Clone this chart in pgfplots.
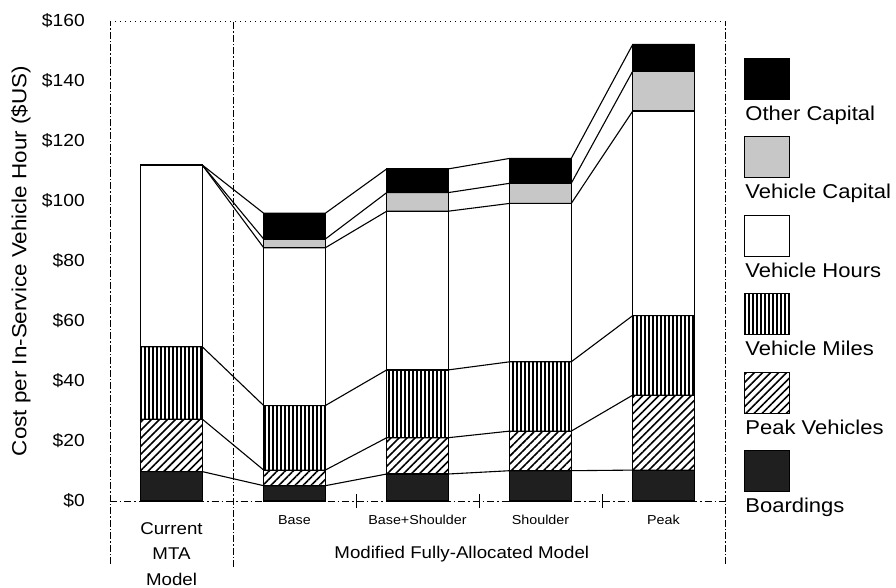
\documentclass[border=0pt]{standalone}
\usepackage{fontspec}
\setmainfont{Liberation Sans}[FakeStretch=1.1]
\usepackage{pgfplots}
\pgfplotsset{compat=1.18}
\usepackage{pgfplotstable}
\usetikzlibrary{patterns,patterns.meta}

\pgfdeclarepatternformonly{vstripes}{\pgfpointorigin}{\pgfpoint{4pt}{60pt}}{\pgfpoint{4pt}{60pt}}{%
  \pgfpathrectangle{\pgfpointorigin}{\pgfpoint{2.3pt}{60pt}}\pgfusepath{fill}}

\pgfplotstableread{
x B PV VM VH VC OC
0 9.8 17.5 24.1 60.6 0 0
1 5.1 5.2 21.5 52.6 2.9 8.6
2 9.0 12.1 22.6 52.9 6.2 7.9
3 10.1 13.2 23.1 52.8 6.7 8.3
4 10.3 25.0 26.5 68.2 13.3 8.9
}\bars

\pgfplotstableread{
x B PV VM VH VC OC
-0.25 9.8 17.5 24.1 60.6 0 0
0.25 9.8 17.5 24.1 60.6 0 0
0.75 5.1 5.2 21.5 52.6 2.9 8.6
1.25 5.1 5.2 21.5 52.6 2.9 8.6
1.75 9.0 12.1 22.6 52.9 6.2 7.9
2.25 9.0 12.1 22.6 52.9 6.2 7.9
2.75 10.1 13.2 23.1 52.8 6.7 8.3
3.25 10.1 13.2 23.1 52.8 6.7 8.3
3.75 10.3 25.0 26.5 68.2 13.3 8.9
4.25 10.3 25.0 26.5 68.2 13.3 8.9
}\conn

\begin{document}
\begin{tikzpicture}
\pgfplotsset{
  common/.style={scale only axis, width=615pt, height=480pt,
    xmin=-0.5, xmax=4.5, ymin=0, ymax=160, clip=false},
  legbox/.style={legend image code/.code={%
    \path (0pt,0pt);
    \draw[##1, overlay, line width=1pt] (0pt,16pt) rectangle (45pt,57pt);}},
}
\begin{axis}[common, name=ax,
  ybar stacked, bar width=0.5,
  axis line style={draw=none},
  ytick={0,20,...,160}, major tick length=0pt,
  xtick pos=bottom, ytick pos=left,
  yticklabel={\$\pgfmathprintnumber{\tick}},
  /pgf/number format/assume math mode=true,
  y tick label style={font=\fontsize{17.5}{20}\selectfont, anchor=east, inner sep=0pt, xshift=-25pt},
  xtick={1,2,3,4}, xticklabels={Base, Base+Shoulder, Shoulder, Peak},
  x tick label style={font=\fontsize{13}{16}\selectfont, anchor=north, inner sep=0pt, yshift=-14pt, align=center},
  extra x ticks={0},
  extra x tick labels={{\fontsize{17}{25.5}\selectfont Current\\[9.5pt]\fontsize{17}{25.5}\selectfont MTA\\[9.5pt]\fontsize{17}{25.5}\selectfont Model}},
  extra x tick style={tick label style={yshift=-7pt}},
  minor xtick={1.5,2.5,3.5}, minor tick length=14pt, tick align=center,
  minor tick style={line width=0.6pt, black},
  xlabel={Modified Fully-Allocated Model},
  every axis x label/.style={at={(axis description cs:0.572,-0.11875)}, anchor=base, font=\fontsize{17}{20}\selectfont},
  ylabel={Cost per In-Service Vehicle Hour (\$US)},
  every axis y label/.style={at={(axis description cs:-0.1447,0.5)}, rotate=90, anchor=center, font=\fontsize{20.4}{24}\selectfont},
  legend style={at={(axis description cs:1,1)}, anchor=north west, xshift=19pt, yshift=-85pt,
    draw=none, fill=none, inner sep=0pt, row sep=60.5pt, column sep=0pt,
    font=\fontsize{20}{22}\selectfont,
    nodes={inner sep=0pt, text height=14pt, text depth=4pt}},
  legend cell align=left, reverse legend,
]
\draw[line width=0.6pt, dash pattern=on 7pt off 2pt on 1.5pt off 2pt] (axis cs:-0.5,-21) -- (axis cs:-0.5,160);
\draw[line width=0.6pt, dash pattern=on 7pt off 2pt on 1.5pt off 2pt] (axis cs:0.5,-22) -- (axis cs:0.5,160);
\draw[line width=0.6pt, dash pattern=on 7pt off 2pt on 1.5pt off 2pt] (axis cs:4.5,-21) -- (axis cs:4.5,160);
\draw[line width=0.6pt, dash pattern=on 1pt off 4pt] (axis cs:-0.5,160) -- (axis cs:4.5,160);
\draw[line width=0.6pt, dash pattern=on 7pt off 3pt on 1.5pt off 3pt] (axis cs:-0.5,0) -- (axis cs:4.5,0);

\addplot[draw=black, line width=1.2pt, fill=black!88, legbox] table[x=x,y=B]{\bars};
\addlegendentry{Boardings}
\addplot[draw=black, line width=1.2pt, pattern={Lines[angle=45,distance=5.7pt,line width=1.6pt]}, legbox] table[x=x,y=PV]{\bars};
\addlegendentry{Peak Vehicles}
\addplot[draw=black, line width=1.2pt, pattern=vstripes, pattern color=black, legbox] table[x=x,y=VM]{\bars};
\addlegendentry{Vehicle Miles}
\addplot[draw=black, line width=1.2pt, fill=white, legbox] table[x=x,y=VH]{\bars};
\addlegendentry{Vehicle Hours}
\addplot[draw=black, line width=1.2pt, fill=black!22, legbox] table[x=x,y=VC]{\bars};
\addlegendentry{Vehicle Capital}
\addplot[draw=black, line width=1.2pt, fill=black, legbox] table[x=x,y=OC]{\bars};
\addlegendentry{Other Capital}
\end{axis}

\begin{axis}[common, hide axis, stack plots=y]
\addplot[black, line width=1.1pt, no markers] table[x=x,y=B]{\conn};
\addplot[black, line width=1.1pt, no markers] table[x=x,y=PV]{\conn};
\addplot[black, line width=1.1pt, no markers] table[x=x,y=VM]{\conn};
\addplot[black, line width=1.1pt, no markers] table[x=x,y=VH]{\conn};
\addplot[black, line width=1.1pt, no markers] table[x=x,y=VC]{\conn};
\addplot[black, line width=1.1pt, no markers] table[x=x,y=OC]{\conn};
\end{axis}

\pgfresetboundingbox
\path[use as bounding box] ([shift={(-110pt,-86pt)}]ax.south west) rectangle ++(896pt,587pt);
\end{tikzpicture}
\end{document}
